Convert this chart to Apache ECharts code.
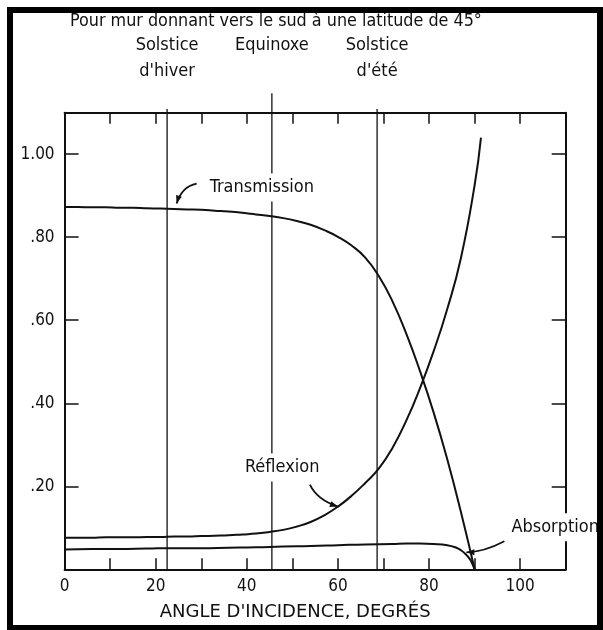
<!DOCTYPE html>
<html><head><meta charset="utf-8">
<script src="https://cdn.jsdelivr.net/npm/echarts@6/dist/echarts.min.js"></script>
<style>html,body{margin:0;padding:0;background:#fff}#c{width:603px;height:630px}</style>
</head><body><div id="c"></div>
<script>
// ---- data ----
const transAngle = [0,3,6,9,12,15,18,21,24,27,30,33,36,39,42,45,48,51,54,57,60,63,66,69,72,75,78,81,84,87,90];
const transValue = [0.873,0.873,0.872,0.872,0.871,0.871,0.870,0.869,0.868,0.867,0.866,0.864,0.862,0.859,0.855,0.851,0.846,0.839,0.830,0.817,0.801,0.780,0.751,0.706,0.645,0.568,0.478,0.378,0.265,0.138,0];
const reflAngle = [0,3,6,9,12,15,18,21,24,27,30,33,36,39,42,45,48,51,54,57,60,63,66,69,72,75,78,81,84,87,90,91.4];
const reflValue = [0.076,0.076,0.076,0.077,0.077,0.077,0.078,0.078,0.079,0.079,0.080,0.081,0.082,0.084,0.086,0.090,0.095,0.103,0.114,0.130,0.151,0.177,0.208,0.243,0.293,0.358,0.436,0.525,0.627,0.750,0.925,1.040];
const absAngle = [0,6,12,18,24,30,36,42,48,54,60,66,72,75,78,81,84,86,87,88,89,89.5,90];
const absValue = [0.048,0.049,0.049,0.050,0.051,0.051,0.052,0.053,0.055,0.056,0.058,0.060,0.061,0.062,0.062,0.061,0.058,0.052,0.046,0.037,0.024,0.013,0];
const refAngles = [22.5, 45.5, 68.6];
const refTops = [1.109, 1.147, 1.109];
const refLabels = ["Solstice\nd'hiver", "Equinoxe", "Solstice\nd'été"];
const xTickLabels = [0,20,40,60,80,100];
const yTickLabels = {"1":"1.00","0.8":".80","0.6":".60","0.4":".40","0.2":".20"};
const titleText = "Pour mur donnant vers le sud à une latitude de 45°";
const xName = "ANGLE D'INCIDENCE, DEGRÉS";
// annotations: label, arrow tip in data coords, label offset, arrow start offset, control offset
const annotations = [
  {text:"Transmission", tip:[24.6,0.881], lab:[31,-16], start:[20,-20], ctrl:[5,-17]},
  {text:"Réflexion", tip:[60,0.151], lab:[-95,-39], start:[-28,-22], ctrl:[-21,-7]},
  {text:"Absorption", tip:[88.2,0.041], lab:[43,-25], start:[38,-11], ctrl:[17,0]}
];

const FONT = '"DejaVu Sans Condensed","Liberation Sans Narrow","DejaVu Sans",sans-serif';
const pairs = (a,b)=>a.map((x,i)=>[x,b[i]]);
const chart = echarts.init(document.getElementById('c'), null, {renderer:'canvas'});
const grid = {left:64.6, right:37.3, top:112.7, bottom:60.7};
const lineSeries = (d)=>({type:'line', data:d, showSymbol:false, symbol:'none', smooth:0.5,
  lineStyle:{color:'#111', width:2}, silent:true, clip:false, z:3});
const series = [
  lineSeries(pairs(transAngle,transValue)),
  lineSeries(pairs(reflAngle,reflValue)),
  lineSeries(pairs(absAngle,absValue))
];
refAngles.forEach((a,i)=>{
  series.push({type:'line', data:[[a,0],[a,refTops[i]]], showSymbol:false, symbol:'none', clip:false,
    lineStyle:{color:'#111', width:1.3}, silent:true, z:2});
});
const axisCommon = {type:'value', min:0, max:110, interval:10, splitLine:{show:false},
  axisLine:{show:true, onZero:false, lineStyle:{color:'#111', width:2}},
  axisTick:{show:true, inside:true, length:11, lineStyle:{color:'#111', width:1.5}}};
const yCommon = {type:'value', min:0, max:1.1, interval:0.2, splitLine:{show:false},
  axisLine:{show:true, onZero:false, lineStyle:{color:'#111', width:2}},
  axisTick:{show:true, inside:true, length:14, lineStyle:{color:'#111', width:1.5}}};
chart.setOption({
  animation:false,
  backgroundColor:'#fff',
  grid,
  xAxis:[
    Object.assign({}, axisCommon, {position:'bottom',
      axisLabel:{show:true, margin:9, color:'#111', fontSize:17, fontFamily:FONT,
        formatter:v=>xTickLabels.includes(v)?String(v):''}}),
    Object.assign({}, axisCommon, {position:'top', axisLabel:{show:false}})
  ],
  yAxis:[
    Object.assign({}, yCommon, {position:'left',
      axisLabel:{show:true, margin:10, color:'#111', fontSize:17, fontFamily:FONT,
        formatter:v=>{const k=String(Math.round(v*10)/10); return yTickLabels[k]||'';}}}),
    Object.assign({}, yCommon, {position:'right', axisLabel:{show:false}})
  ],
  series
});

function buildGraphics(){
  const g = [];
  g.push({type:'rect', shape:{x:10,y:10,width:590,height:618}, style:{fill:'none', stroke:'#000', lineWidth:6}, z:200});
  g.push({type:'text', x:70, y:21, style:{text:titleText, font:'17.8px '+FONT, fill:'#111', textVerticalAlign:'middle'}, z:100});
  refAngles.forEach((a,i)=>{
    const p = chart.convertToPixel({gridIndex:0}, [a, 0]);
    g.push({type:'text', x:p[0], y:32, style:{text:refLabels[i], font:'18px '+FONT, fill:'#111', align:'center', verticalAlign:'top', lineHeight:26}, z:100});
  });
  const lx = chart.convertToPixel({gridIndex:0}, [0,0]);
  const rx = chart.convertToPixel({gridIndex:0}, [110,0]);
  g.push({type:'text', x:(lx[0]+rx[0])/2 - 20, y:612, style:{text:xName, font:'18px "DejaVu Sans",sans-serif', fill:'#111', align:'center', verticalAlign:'middle'}, z:100});
  annotations.forEach(an=>{
    const t = chart.convertToPixel({gridIndex:0}, an.tip);
    const s = [t[0]+an.start[0], t[1]+an.start[1]];
    const c = [t[0]+an.ctrl[0], t[1]+an.ctrl[1]];
    g.push({type:'text', x:t[0]+an.lab[0], y:t[1]+an.lab[1], style:{text:an.text, font:'18px '+FONT, fill:'#111',
      verticalAlign:'middle', backgroundColor:'#fff', padding:[5,2]}, z:100});
    g.push({type:'bezierCurve', shape:{x1:s[0],y1:s[1],x2:t[0],y2:t[1],cpx1:c[0],cpy1:c[1]}, style:{stroke:'#111', lineWidth:1.8, fill:'none'}, z:101});
    let dx=t[0]-c[0], dy=t[1]-c[1]; const L=Math.hypot(dx,dy)||1; dx/=L; dy/=L;
    const px=-dy, py=dx, len=8, w=3;
    g.push({type:'polygon', shape:{points:[[t[0],t[1]],[t[0]-dx*len+px*w,t[1]-dy*len+py*w],[t[0]-dx*len-px*w,t[1]-dy*len-py*w]]},
      style:{fill:'#111'}, z:102});
  });
  return g;
}
chart.setOption({graphic:{elements:buildGraphics()}});
</script></body></html>
